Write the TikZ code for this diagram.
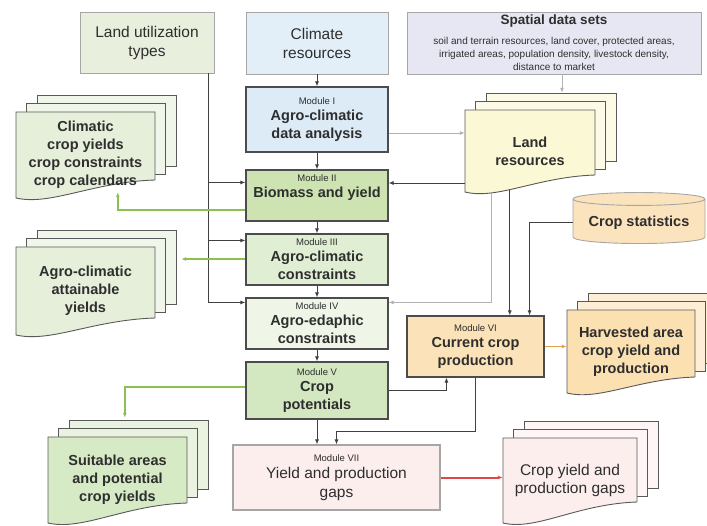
\documentclass[tikz,border=0pt]{standalone}
\usepackage{fontspec}
\setmainfont{Liberation Sans}
\usetikzlibrary{arrows.meta,shapes.geometric}
\definecolor{txt}{HTML}{2E2E2E}
\definecolor{cLuse}{HTML}{E8EFDD}
\definecolor{cClim}{HTML}{E2EFF9}
\definecolor{cSpat}{HTML}{E7E7F3}
\definecolor{cModI}{HTML}{DDEBF7}
\definecolor{cModII}{HTML}{CDE4B2}
\definecolor{cModIII}{HTML}{E0EED3}
\definecolor{cModIV}{HTML}{EFF6E8}
\definecolor{cModV}{HTML}{D3E8C0}
\definecolor{cModVI}{HTML}{FBE2B8}
\definecolor{cModVII}{HTML}{FDEEEE}
\definecolor{cDocClim}{HTML}{E6EFDA}
\definecolor{cDocSuit}{HTML}{D7EAC6}
\definecolor{cDocLand}{HTML}{FBF8D6}
\definecolor{cStat}{HTML}{FBE3BD}
\definecolor{cDocHarv}{HTML}{FBE0B2}
\definecolor{cDocGap}{HTML}{FDEEEE}
\definecolor{cGreen}{HTML}{8CC152}
\definecolor{cOrange}{HTML}{E3A24A}
\definecolor{cRed}{HTML}{E04848}
\newcommand\modlabel[1]{{\fontsize{9.5}{11}\selectfont\mdseries #1}}
\newcommand\smalltxt[1]{{\fontsize{10}{12}\selectfont #1}}
% stack of three pages: name, x0, y0, x1, y1 (left bottom), yR (right bottom), fill, text
\newcommand\docstack[8]{%
  \foreach \k in {2,1}
    \draw[docline,fill=#7!55!white,shift={(10.5*\k,-8.5*\k)}] (#2,#3) rectangle (#4,{#6+3});
  \draw[docline,fill=#7] (#2,#3) -- (#4,#3) -- (#4,#6)
    .. controls ({#2+0.55*(#4-#2)},{#6+2}) and ({#2+0.25*(#4-#2)},{#5+8}) .. (#2,#5) -- cycle;
  \node[doctext,minimum width={#4-#2},minimum height={#5-#3}] (#1) at ({(#2+#4)/2},{(#3+#5)/2}) {#8};
}
\begin{document}
\begin{tikzpicture}[x=1pt,y=-1pt,
  inbox/.style={draw=gray!70,line width=0.9pt,inner sep=2pt,align=center,text=txt,
    font=\fontsize{15.5}{19}\selectfont},
  module/.style={draw=black!70,line width=1.1pt,inner sep=2pt,align=center,text=txt,
    font=\fontsize{14.5}{18}\selectfont\bfseries},
  doctext/.style={inner sep=0pt,align=center,text=txt,font=\fontsize{14.5}{18}\selectfont\bfseries},
  docline/.style={draw=black!65,line width=0.9pt},
  link/.style={draw=black!75,line width=0.9pt,-{Latex[length=5pt,width=4pt]}},
  faint/.style={link,draw=gray!60},
  gflow/.style={link,draw=cGreen,line width=1.6pt},
  oflow/.style={link,draw=cOrange,line width=1.3pt},
  rflow/.style={link,draw=cRed,line width=2pt}]
\useasboundingbox (0,0) rectangle (707,526);

% inputs
\node[inbox,fill=cLuse,minimum width=134,minimum height=61] (luse) at (147,42.5) {Land utilization\\types};
\node[inbox,fill=cClim,minimum width=142,minimum height=62] (clim) at (317,43) {Climate\\resources};
\node[inbox,fill=cSpat,minimum width=294,minimum height=62] (spatial) at (554,43)
  {\fontsize{13.5}{16}\selectfont\bfseries Spatial data sets\\[1pt]
   \smalltxt{soil and terrain resources, land cover, protected areas,}\\[-6pt]
   \smalltxt{irrigated areas, population density, livestock density,}\\[-6pt]
   \smalltxt{distance to market}};
\node[cylinder,shape border rotate=90,aspect=0.12,draw=gray!70,line width=0.9pt,fill=cStat,
  minimum width=132,minimum height=51,text=txt,font=\fontsize{14.5}{18}\selectfont\bfseries]
  (cstat) at (639,222.5) {Crop statistics};

% modules
\node[module,fill=cModI,minimum width=142,minimum height=65] (mod1) at (317,119.5)
  {\modlabel{Module I}\\[-2pt]Agro-climatic\\data analysis};
\node[module,fill=cModII,minimum width=142,minimum height=51,text depth=19pt] (mod2) at (317,195.5)
  {\modlabel{Module II}\\[-2pt]Biomass and yield};
\node[module,fill=cModIII,minimum width=142,minimum height=51] (mod3) at (317,259.5)
  {\modlabel{Module III}\\[-2pt]Agro-climatic\\constraints};
\node[module,fill=cModIV,minimum width=142,minimum height=51] (mod4) at (317,323.5)
  {\modlabel{Module IV}\\[-2pt]Agro-edaphic\\constraints};
\node[module,fill=cModV,minimum width=142,minimum height=57] (mod5) at (317,390.5)
  {\modlabel{Module V}\\[-2pt]Crop\\potentials};
\node[module,fill=cModVI,minimum width=137,minimum height=61] (mod6) at (475.5,346.5)
  {\modlabel{Module VI}\\[-2pt]Current crop\\production};
\node[module,draw=gray!70,fill=cModVII,minimum width=207,minimum height=65,
  font=\fontsize{15.5}{19}\selectfont] (mod7) at (336.5,477.5)
  {\modlabel{Module VII}\\[-2pt]Yield and production\\gaps};

% outputs
\docstack{climdoc}{16}{112}{155}{198}{180}{cDocClim}{Climatic\\crop yields\\crop constraints\\crop calendars}
\docstack{attdoc}{16}{247}{155}{335}{318}{cDocClim}{Agro-climatic\\attainable\\yields}
\docstack{suitdoc}{48}{437}{187}{523}{503}{cDocSuit}{Suitable areas\\and potential\\crop yields}
\docstack{landdoc}{465}{110}{595}{192}{175}{cDocLand}{Land\\resources}
\docstack{harvdoc}{567}{310}{695}{393}{377}{cDocHarv}{Harvested area\\crop yield and\\production}
\docstack{gapdoc}{503}{438}{637}{523}{502}{cDocGap}{\mdseries\fontsize{15.5}{19}\selectfont Crop yield and\\\mdseries\fontsize{15.5}{19}\selectfont production gaps}

% module chain
\draw[link] (clim) -- (mod1);
\draw[link] (mod1) -- (mod2);
\draw[link] (mod2) -- (mod3);
\draw[link] (mod3) -- (mod4);
\draw[link] (mod4) -- (mod5);
\draw[link] (mod5.south) -- (mod5.south |- mod7.north);

% land utilization types
\coordinate (lu) at ([xshift=-6pt]luse.south east);
\coordinate (in2) at ([yshift=-13pt]mod2.north west);
\coordinate (in3) at ([yshift=-7pt]mod3.north west);
\coordinate (in4) at ([yshift=-5pt]mod4.north west);
\draw[link] (lu) |- (in4);
\draw[link] (lu |- in2) -- (in2);
\draw[link] (lu |- in3) -- (in3);

% land resources
\coordinate (lt) at ([yshift=17pt]landdoc.north);
\coordinate (sp) at ([xshift=8pt]spatial.south);
\draw[faint] (sp) -- (sp |- lt);
\coordinate (lr1) at ([yshift=-13.5pt]mod1.east);
\draw[faint] (lr1) -- (lr1 -| landdoc.west);
\coordinate (lr2) at ([yshift=12.5pt]mod2.east);
\draw[link] (lr2 -| landdoc.west) -- (lr2);
\coordinate (ld1) at ([xshift=27pt,yshift=-1pt]landdoc.south west);
\coordinate (ld2) at ([xshift=45pt,yshift=2pt]landdoc.south west);
\coordinate (in4r) at ([yshift=-5pt]mod4.north east);
\draw[faint] (ld1) |- (in4r);
\draw[link] (ld2) -- (ld2 |- mod6.north);
\draw[link] (cstat.west) -| ([xshift=-15pt]mod6.north east);

% current production and gaps
\draw[link] (mod5.east) -| ([xshift=40pt]mod6.south west);
\draw[link] (mod6.south) |- ([yshift=13pt]mod7.north) -- (mod7.north);
\draw[oflow] (mod6.east) -- (mod6.east -| harvdoc.west);
\draw[rflow] (mod7.east) -- (mod7.east -| gapdoc.west);

% results
\draw[gflow] ([yshift=-14.5pt]mod2.west) -| ([xshift=102pt,yshift=6pt]climdoc.south west);
\coordinate (g3) at ([yshift=0.5pt]mod3.west);
\coordinate (ae) at ([xshift=26pt]attdoc.east);
\draw[gflow] (g3) -- (g3 -| ae);
\draw[gflow] ([yshift=3.5pt]mod5.west) -| ([xshift=77pt,yshift=19pt]suitdoc.north west);
\end{tikzpicture}
\end{document}
